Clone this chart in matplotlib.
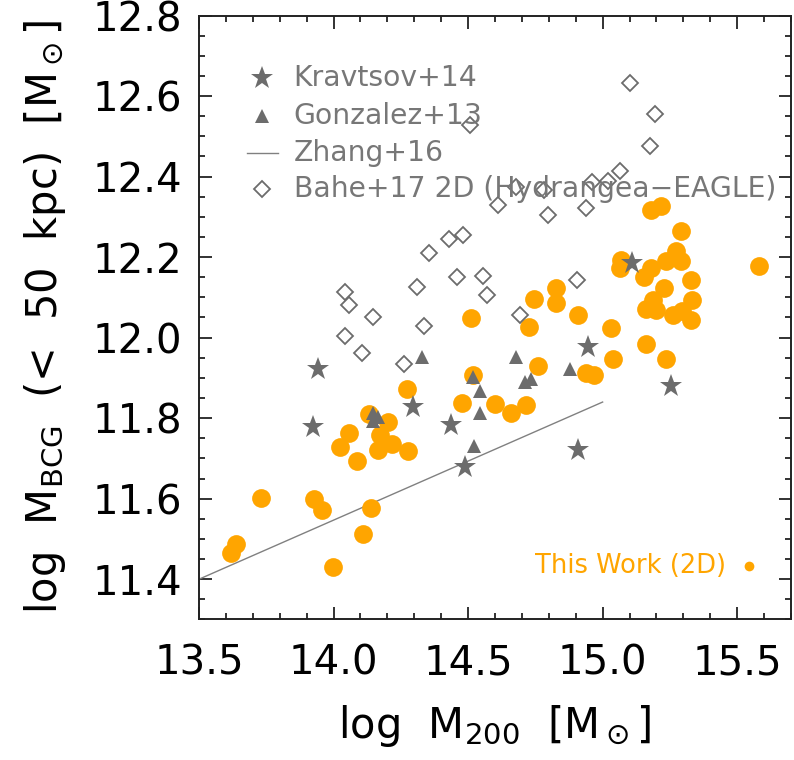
import matplotlib
matplotlib.use("Agg")
import matplotlib.pyplot as plt
from matplotlib.ticker import MultipleLocator

# ---------------- data ----------------
# This Work (2D)
this_x = [13.618, 13.636, 13.729, 13.927, 13.958, 13.997, 14.025, 14.058, 14.086, 14.111,
          14.132, 14.140, 14.166, 14.173, 14.203, 14.216, 14.272, 14.277, 14.479, 14.511,
          14.520, 14.600, 14.660, 14.716, 14.728, 14.744, 14.760, 14.825, 14.825, 14.908,
          14.940, 14.968, 15.030, 15.039, 15.067, 15.063, 15.152, 15.178, 15.163, 15.162,
          15.186, 15.197, 15.227, 15.236, 15.234, 15.273, 15.292, 15.292, 15.329, 15.333,
          15.260, 15.295, 15.327, 15.180, 15.217, 15.580]
this_y = [11.465, 11.488, 11.602, 11.599, 11.571, 11.430, 11.728, 11.763, 11.693, 11.512,
          11.810, 11.577, 11.722, 11.758, 11.791, 11.735, 11.873, 11.719, 11.838, 12.048,
          11.908, 11.835, 11.814, 11.832, 12.026, 12.096, 11.929, 12.124, 12.087, 12.057,
          11.913, 11.907, 12.023, 11.946, 12.194, 12.173, 12.151, 12.173, 11.983, 12.071,
          12.093, 12.069, 12.123, 11.948, 12.191, 12.215, 12.191, 12.264, 12.143, 12.093,
          12.055, 12.066, 12.044, 12.318, 12.327, 12.177]

# Kravtsov+14
krav_x = [13.942, 13.923, 14.294, 14.435, 14.490, 14.946, 15.108, 15.254, 14.909]
krav_y = [11.921, 11.778, 11.828, 11.782, 11.679, 11.976, 12.185, 11.879, 11.722]

# Gonzalez+13
gonz_x = [14.146, 14.166, 14.148, 14.330, 14.520, 14.544, 14.544, 14.522, 14.679,
          14.710, 14.733, 14.879]
gonz_y = [11.813, 11.802, 11.792, 11.951, 11.903, 11.867, 11.814, 11.730, 11.951,
          11.889, 11.897, 11.923]

# Zhang+16 relation (end points)
zhang_x = [13.5, 15.0]
zhang_y = [11.40, 11.84]

# Bahe+17 2D (Hydrangea-EAGLE)
bahe_x = [14.043, 14.058, 14.148, 14.043, 14.106, 14.263, 14.336, 14.309, 14.354, 14.430,
          14.482, 14.459, 14.554, 14.572, 14.507, 15.101, 15.196, 15.175, 15.065, 15.020,
          14.959, 14.937, 14.797, 14.781, 14.678, 14.610, 14.693, 14.905]
bahe_y = [12.114, 12.082, 12.050, 12.004, 11.961, 11.934, 12.028, 12.126, 12.209, 12.245,
          12.254, 12.150, 12.153, 12.107, 12.527, 12.632, 12.556, 12.475, 12.413, 12.390,
          12.387, 12.322, 12.305, 12.366, 12.374, 12.330, 12.056, 12.143]

legend_labels = ["Kravtsov+14", "Gonzalez+13", "Zhang+16", "Bahe+17 2D (Hydrangea\u2212EAGLE)"]
this_label = "This Work (2D)"

# ---------------- style ----------------
ORANGE = "#FFA500"
GRAY = "#6c6c6c"
TEXTGRAY = "#777777"

plt.rcParams['font.family'] = ['DejaVu Sans']
plt.rcParams['mathtext.fontset'] = 'dejavusans'

fig = plt.figure(figsize=(7.94, 7.60), dpi=100)
ax = fig.add_axes([0.2506, 0.1849, 0.7456, 0.7947])

ax.plot(zhang_x, zhang_y, color="#808080", lw=1.0, zorder=2)
ax.plot(this_x, this_y, 'o', ms=13.5, color=ORANGE, mec=ORANGE, mew=0, zorder=3)
ax.plot(bahe_x, bahe_y, 'D', ms=7.8, mfc='white', mec=GRAY, mew=1.3, zorder=4)
ax.plot(gonz_x, gonz_y, '^', ms=10, color=GRAY, mew=0, zorder=5)
ax.plot(krav_x, krav_y, '*', ms=17, color=GRAY, mew=0, zorder=5)

ax.set_xlim(13.5, 15.7)
ax.set_ylim(11.3, 12.8)
ax.xaxis.set_major_locator(MultipleLocator(0.5))
ax.xaxis.set_minor_locator(MultipleLocator(0.1))
ax.yaxis.set_major_locator(MultipleLocator(0.2))
ax.yaxis.set_minor_locator(MultipleLocator(0.05))
ax.xaxis.set_major_formatter(matplotlib.ticker.FormatStrFormatter('%.1f'))
ax.yaxis.set_major_formatter(matplotlib.ticker.FormatStrFormatter('%.1f'))

ax.tick_params(which='both', direction='in', top=True, right=True, width=1.3, color='#222222')
ax.tick_params(which='major', length=9)
ax.tick_params(which='minor', length=4.5)
ax.tick_params(axis='x', which='major', labelsize=29, pad=17)
ax.tick_params(axis='y', which='major', labelsize=29, pad=12)
for sp in ax.spines.values():
    sp.set_linewidth(1.4)
    sp.set_color('#222222')

ax.set_xlabel(r'log  M$_{200}$  [M$_\odot$]', fontsize=30, labelpad=14)
ax.set_ylabel(r'log  M$_{\rm BCG}$  (<  50  kpc)  [M$_\odot$]', fontsize=30, labelpad=18)

# legend (manual)
tx = 0.160
mx = 0.107
rows = [0.896, 0.833, 0.772, 0.712]
ax.plot([mx], [rows[0]], '*', ms=17, color=GRAY, mew=0, transform=ax.transAxes, clip_on=False)
ax.plot([mx], [rows[1]], '^', ms=10, color=GRAY, mew=0, transform=ax.transAxes, clip_on=False)
ax.plot([mx - 0.026, mx + 0.026], [rows[2], rows[2]], color="#808080", lw=1.0, transform=ax.transAxes)
ax.plot([mx], [rows[3]], 'D', ms=7.8, mfc='white', mec=GRAY, mew=1.3, transform=ax.transAxes, clip_on=False)
for r, lab in zip(rows, legend_labels):
    ax.text(tx, r, lab, transform=ax.transAxes, fontsize=20.3, color=TEXTGRAY,
            ha='left', va='center', zorder=6)

ax.text(0.891, 0.089, this_label, transform=ax.transAxes, fontsize=18.5, color=ORANGE,
        ha='right', va='center')
ax.plot([0.929], [0.089], 'o', ms=7, color=ORANGE, mew=0, transform=ax.transAxes)

fig.savefig("out.png", dpi=100)
